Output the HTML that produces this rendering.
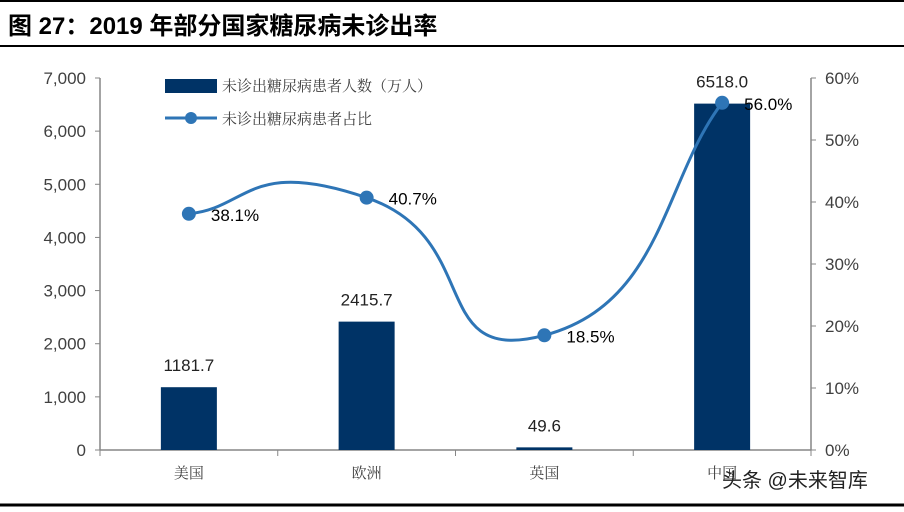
<!DOCTYPE html>
<html><head><meta charset="utf-8"><style>
body{margin:0;width:904px;height:507px;background:#fff;overflow:hidden;font-family:"Liberation Sans","Noto Sans CJK SC",sans-serif}
</style></head><body>
<svg width="904" height="507" xmlns="http://www.w3.org/2000/svg">
<line x1="0" y1="1" x2="904" y2="1" stroke="#000" stroke-width="2"/>
<text x="8" y="34" font-size="24" font-weight="bold" fill="#000" font-family="Liberation Sans,Noto Sans CJK SC,sans-serif">图 27：2019 年部分国家糖尿病未诊出率</text>
<line x1="0" y1="46" x2="904" y2="46" stroke="#000" stroke-width="2"/>
<line x1="0" y1="505" x2="904" y2="505" stroke="#000" stroke-width="3"/>
<g id="axes"></g><g id="bars"></g><g id="line"></g>
<rect x="165" y="79" width="52" height="14" fill="#003366"/>
<text x="222" y="91" font-size="15" fill="#404040" font-family="Noto Serif CJK SC,serif">未诊出糖尿病患者人数（万人）</text>
<line x1="165" y1="118" x2="217" y2="118" stroke="#2e75b6" stroke-width="3"/>
<circle cx="191" cy="118" r="6" fill="#2e75b6"/>
<text x="222" y="124" font-size="15" fill="#404040" font-family="Noto Serif CJK SC,serif">未诊出糖尿病患者占比</text>
<text x="722" y="487" font-size="20" fill="#222">头条 @未来智库</text>
</svg>
<script>
const categories=["美国","欧洲","英国","中国"];
const patients=[1181.7,2415.7,49.6,6518.0];
const ratios=[38.1,40.7,18.5,56.0];
const leftTicks=[0,1000,2000,3000,4000,5000,6000,7000];
const rightTicks=[0,10,20,30,40,50,60];
const NS="http://www.w3.org/2000/svg";
const X0=100,X1=811,Y0=450,Y1=78;
const band=(X1-X0)/categories.length;
const xc=i=>X0+band*(i+0.5);
const yL=v=>Y0-(v/7000)*(Y0-Y1);
const yR=v=>Y0-(v/60)*(Y0-Y1);
function mk(tag,attrs,parent,txt){const e=document.createElementNS(NS,tag);for(const k in attrs)e.setAttribute(k,attrs[k]);if(txt!==undefined)e.textContent=txt;document.getElementById(parent).appendChild(e);return e;}
const axisC="#868686";
let e;
e=mk("line",{x1:X0,y1:Y1,x2:X0,y2:Y0,stroke:axisC,"stroke-width":1.5},"axes");


e=mk("line",{x1:X1,y1:Y1,x2:X1,y2:Y0,stroke:axisC,"stroke-width":1.5},"axes");


e=mk("line",{x1:X0,y1:Y0,x2:X1,y2:Y0,stroke:axisC,"stroke-width":1.5},"axes");


leftTicks.forEach(t=>{const y=yL(t);
 mk("line",{x1:X0-5,y1:y,x2:X0,y2:y,stroke:axisC},"axes");
 e=mk("text",{x:X0-14,y:y+6,"text-anchor":"end","font-size":17,fill:"#404040"},"axes",t.toLocaleString("en-US"));
 
 });
rightTicks.forEach(t=>{const y=yR(t);
 mk("line",{x1:X1,y1:y,x2:X1+5,y2:y,stroke:axisC},"axes");
 e=mk("text",{x:X1+14,y:y+6,"font-size":17,fill:"#404040"},"axes",t+"%");
 
 });
for(let i=0;i<=categories.length;i++){const x=X0+band*i;mk("line",{x1:x,y1:Y0,x2:x,y2:Y0+6,stroke:axisC},"axes");}
categories.forEach((c,i)=>{
 e=mk("text",{x:xc(i),y:Y0+28,"text-anchor":"middle","font-size":15,fill:"#404040","font-family":"Noto Serif CJK SC,serif"},"axes",c);
 
 });
patients.forEach((v,i)=>{const w=56,y=yL(v);
 e=mk("rect",{x:xc(i)-w/2,y:y,width:w,height:Y0-y,fill:"#003366"},"bars");
 
 
 e=mk("text",{x:xc(i),y:y-16,"text-anchor":"middle","font-size":17,fill:"#222"},"bars",v.toFixed(1));
 
 });
const pts=ratios.map((v,i)=>[xc(i),yR(v)]);
let d="M"+pts[0][0]+","+pts[0][1];
for(let i=0;i<pts.length-1;i++){const p0=pts[Math.max(i-1,0)],p1=pts[i],p2=pts[i+1],p3=pts[Math.min(i+2,pts.length-1)];const t=0.5/3*2;
 const c1=[p1[0]+(p2[0]-p0[0])*t,p1[1]+(p2[1]-p0[1])*t],c2=[p2[0]-(p3[0]-p1[0])*t,p2[1]-(p3[1]-p1[1])*t];
 d+=" C"+c1+" "+c2+" "+p2;}
e=mk("path",{d:d,fill:"none",stroke:"#2e75b6","stroke-width":3},"line");


pts.forEach((p,i)=>{
 e=mk("circle",{cx:p[0],cy:p[1],r:7,fill:"#2e75b6"},"line");
 
 
 e=mk("text",{x:p[0]+22,y:p[1]+7,"font-size":17,fill:"#000"},"line",ratios[i].toFixed(1)+"%");
 
 });
</script>
</body></html>
